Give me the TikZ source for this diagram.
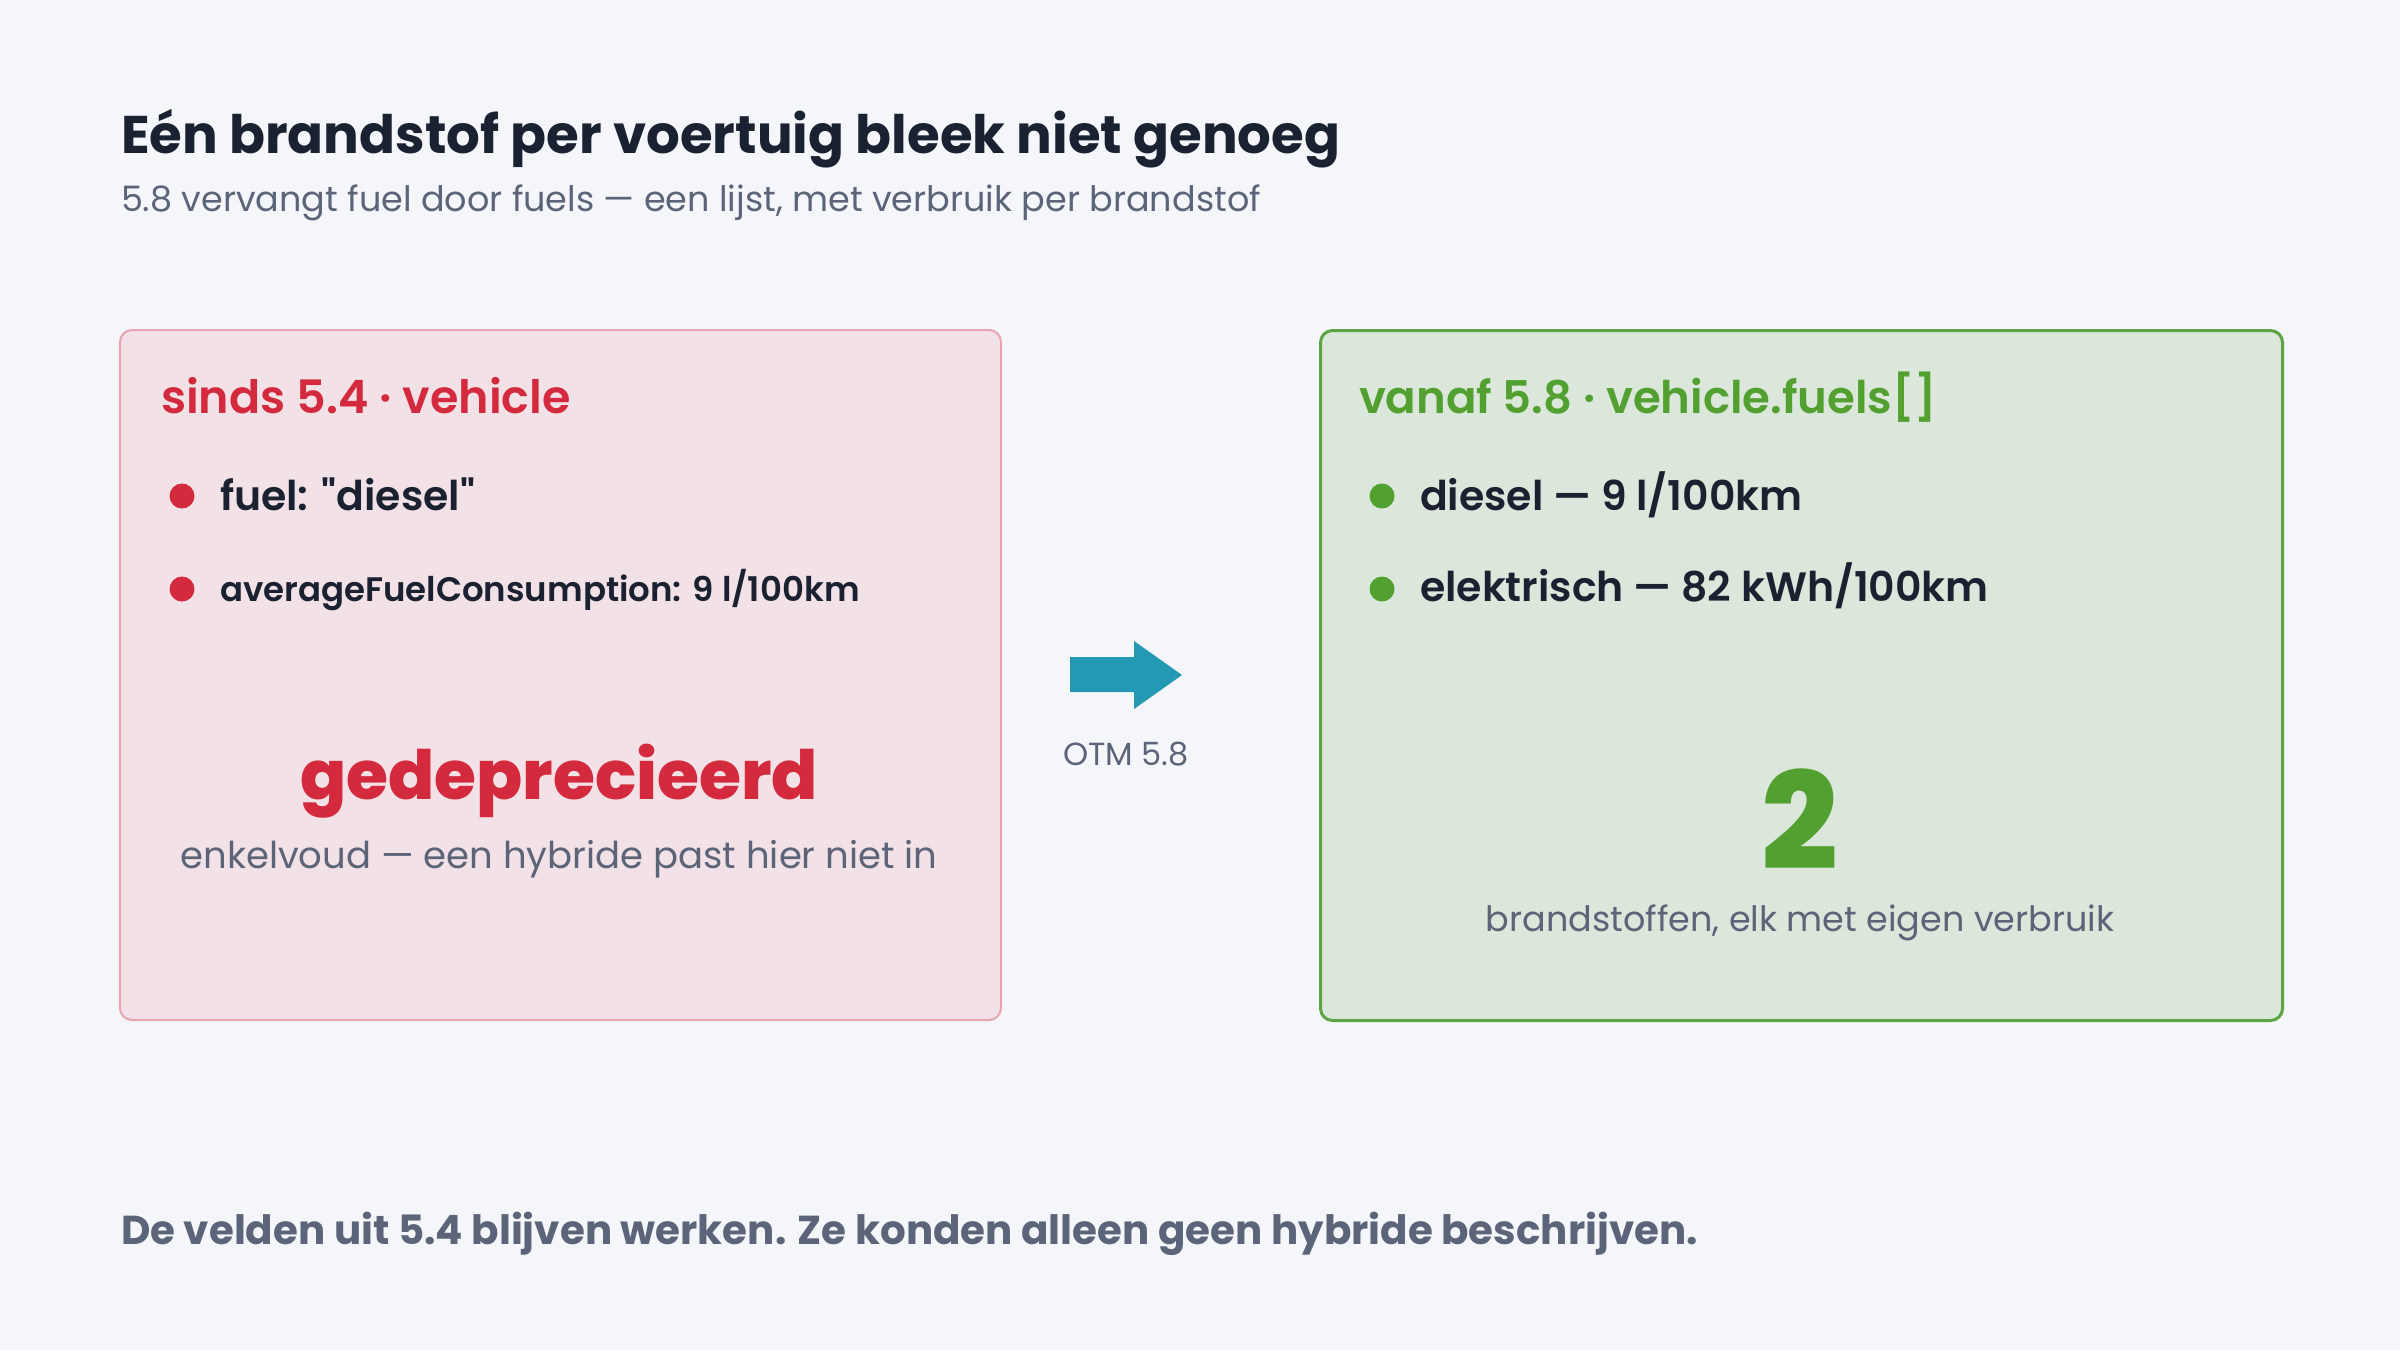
\documentclass[tikz,border=0pt]{standalone}
\usepackage{fontspec}
\setmainfont{Poppins}
\newfontfamily\psemi{Poppins SemiBold}
\newfontfamily\pxbold{Poppins ExtraBold}
\definecolor{bg}{HTML}{F4F6F9}
\definecolor{ink}{HTML}{1A2130}
\definecolor{slate}{HTML}{5B6478}
\definecolor{redc}{HTML}{D42A3E}
\definecolor{redfill}{HTML}{F2E1E6}
\definecolor{redline}{HTML}{E8A4B0}
\definecolor{greenc}{HTML}{52A030}
\definecolor{greenfill}{HTML}{DBE7DA}
\definecolor{greenline}{HTML}{5FA444}
\definecolor{teal}{HTML}{2399B3}
\tikzset{
  txt/.style={inner sep=0pt, outer sep=0pt},
  panel/.style={rounded corners=12pt, minimum width=881pt, minimum height=690pt, anchor=north west, inner sep=0pt},
  bulletdot/.style={circle, minimum size=25pt, inner sep=0pt},
  itemtxt/.style={txt, anchor=base west, text=ink, font=\fontsize{41}{46}\selectfont\psemi},
}
\begin{document}
\begin{tikzpicture}[x=1pt,y=-1pt]
\useasboundingbox (0,0) rectangle (2400,1350);
\fill[bg] (0,0) rectangle (2400,1350);

\node[txt, anchor=base west, text=ink, font=\fontsize{53}{58}\selectfont\bfseries] (title) at (121,153) {Eén brandstof per voertuig bleek niet genoeg};
\node[txt, anchor=base west, text=slate, font=\fontsize{35}{40}\selectfont] (subtitle) at (121,211) {5.8 vervangt fuel door fuels — een lijst, met verbruik per brandstof};

% left panel
\node[panel, draw=redline, fill=redfill, line width=2pt] (left) at (119,329) {};
\node[txt, anchor=base west, text=redc, font=\fontsize{46}{50}\selectfont\psemi] (ltitle) at (161,413) {sinds 5.4 · vehicle};
\node[bulletdot, fill=redc] (ld1) at (182,496) {};
\node[itemtxt] (li1) at (220,510) {fuel: "diesel"};
\node[bulletdot, fill=redc] (ld2) at (182,589) {};
\node[itemtxt, font=\fontsize{34}{38}\selectfont\psemi] (li2) at (220,601) {averageFuelConsumption: 9 l/100km};
\node[txt, anchor=base, text=redc, font=\fontsize{68}{72}\selectfont\pxbold] (dep) at (559,799) {gedeprecieerd};
\node[txt, anchor=base, text=slate, font=\fontsize{37}{42}\selectfont] (depsub) at (559,868) {enkelvoud — een hybride past hier niet in};

% arrow
\fill[teal] (1070,657) -- (1134,657) -- (1134,641) -- (1182,675) -- (1134,709) -- (1134,692) -- (1070,692) -- cycle;
\node[txt, anchor=base, text=slate, font=\fontsize{32}{36}\selectfont] (otm) at (1126,765) {OTM 5.8};

% right panel
\node[panel, draw=greenline, fill=greenfill, line width=3pt, minimum width=962pt] (right) at (1319,329) {};
\node[txt, anchor=base west, text=greenc, font=\fontsize{45}{50}\selectfont\psemi] (rtitle) at (1359,413) {vanaf 5.8 · vehicle.fuels[]};
\node[bulletdot, fill=greenc] (rd1) at (1382,496) {};
\node[itemtxt] (ri1) at (1420,510) {diesel — 9 l/100km};
\node[bulletdot, fill=greenc] (rd2) at (1382,589) {};
\node[itemtxt] (ri2) at (1420,601) {elektrisch — 82 kWh/100km};
\node[txt, anchor=base, text=greenc, font=\fontsize{135}{140}\selectfont\pxbold] (two) at (1800,869) {2};
\node[txt, anchor=base, text=slate, font=\fontsize{35}{40}\selectfont] (twosub) at (1800,931) {brandstoffen, elk met eigen verbruik};

% footer
\node[txt, anchor=base west, text=slate, font=\fontsize{40.4}{45}\selectfont\bfseries] (footer) at (121,1244) {De velden uit 5.4 blijven werken. Ze konden alleen geen hybride beschrijven.};
\end{tikzpicture}
\end{document}
